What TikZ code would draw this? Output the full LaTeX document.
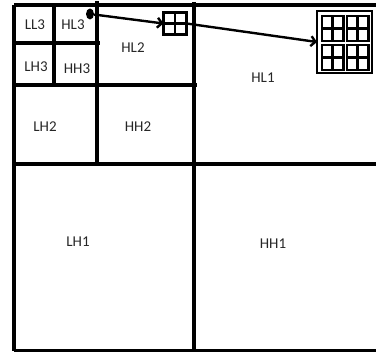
\documentclass[tikz,border=0pt]{standalone}
\usepackage{fontspec}
\setmainfont{Carlito}
\usetikzlibrary{arrows.meta,shapes.geometric}
\begin{document}
\begin{tikzpicture}[x=1pt,y=-1pt,
  frame/.style={line width=3.3pt,black},
  lbl/.style={font=\fontsize{15}{17}\selectfont,text=black!85,inner sep=0pt},
  icon/.style={draw,line width=2.5pt,rectangle,inner sep=0pt,outer sep=0pt},
  arr/.style={line width=2.4pt,-{Straight Barb[length=4.5pt,width=10pt,line width=2.4pt]}}]
\useasboundingbox (0,0) rectangle (376,352);
% frame
\draw[frame] (14,5) -- (376,5);
\draw[frame] (14,5) -- (14,351);
\draw[frame] (14,351) -- (376,351);
\draw[frame] (12,164) -- (376,164);
\draw[frame] (194,2) -- (194,351);
\draw[frame] (12,85) -- (197,85);
\draw[frame] (97,1) -- (97,165);
\draw[frame] (14,43) -- (100,43);
\draw[frame] (54,5) -- (54,85);
% labels
\node[lbl] (ll3) at (35,25) {LL3};
\node[lbl] (hl3) at (73,25) {HL3};
\node[lbl] (lh3) at (36,67) {LH3};
\node[lbl] (hh3) at (77,69) {HH3};
\node[lbl] (hl2) at (133,48) {HL2};
\node[lbl] (hl1) at (263,78) {HL1};
\node[lbl] (lh2) at (45,127) {LH2};
\node[lbl] (hh2) at (138,127) {HH2};
\node[lbl] (lh1) at (78,242) {LH1};
\node[lbl] (hh1) at (273,244) {HH1};
% dot
\node[ellipse,fill=black,inner sep=0pt,minimum width=8pt,minimum height=11pt] (d) at (90,14) {};
% small icon
\node[icon,minimum width=23pt,minimum height=22pt] (s) at (175,23.5) {};
\draw[line width=2.5pt] (s.north) -- (s.south) (s.west) -- (s.east);
% big icon
\node[icon,minimum width=55pt,minimum height=62pt] (b) at (344.5,42) {};
\foreach \n/\px/\py in {q1/332.5/28.5,q2/357.5/28.5,q3/332.5/57.5,q4/357.5/57.5}{
  \node[icon,minimum width=21.5pt,minimum height=25pt] (\n) at (\px,\py) {};
  \draw[line width=2.5pt] (\n.north) -- (\n.south) (\n.west) -- (\n.east);
}
% arrows
\draw[arr] (d) -- (s.west);
\draw[arr] (s.east) -- (b.west);
\end{tikzpicture}
\end{document}
